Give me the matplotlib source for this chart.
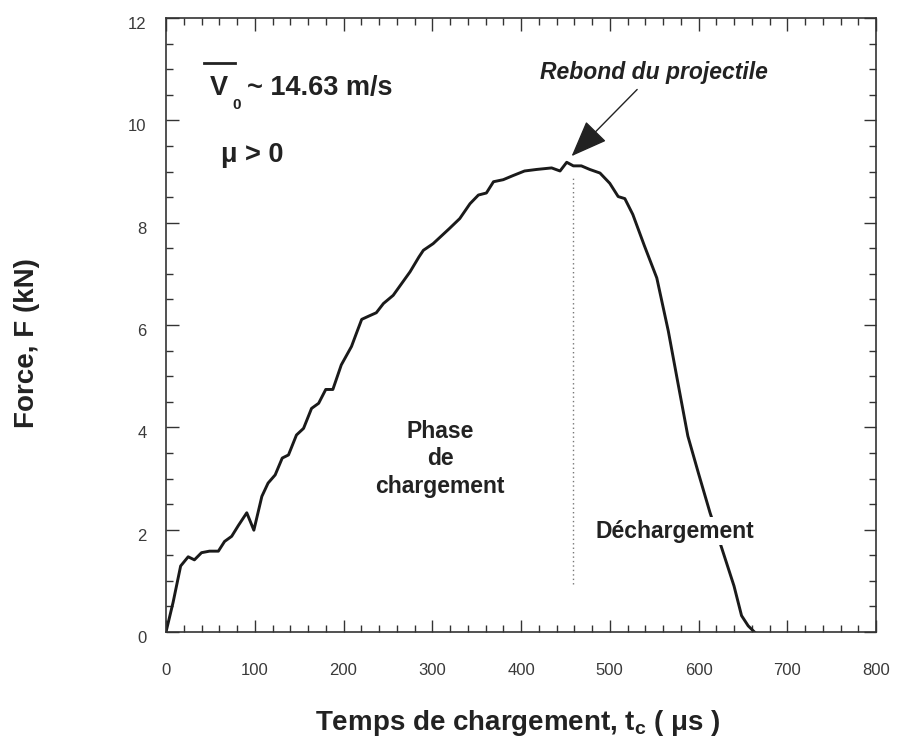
import matplotlib
matplotlib.use("Agg")
import matplotlib.pyplot as plt
import matplotlib.transforms as mtransforms
from matplotlib.ticker import MultipleLocator

plt.rcParams['font.family'] = ['Liberation Sans', 'DejaVu Sans']
plt.rcParams['mathtext.fontset'] = 'custom'
plt.rcParams['mathtext.rm'] = 'Liberation Sans:bold'
plt.rcParams['mathtext.it'] = 'Liberation Sans:bold'
plt.rcParams['mathtext.bf'] = 'Liberation Sans:bold'

# ---- data ----
time_us = [0, 8, 16.5, 25, 32, 40, 49, 59, 66, 74, 81.5, 91, 99, 108, 115, 123,
           131, 138, 147, 155, 164, 172, 180, 188, 197.5, 209, 214.6, 220.5, 228,
           237, 245, 256, 265.5, 275, 285, 290, 301, 319, 331, 342.5, 352, 361,
           369, 380, 391, 404, 417.6, 434.5, 444, 451.5, 459, 468, 477.5, 489,
           500, 509.5, 517, 526, 539, 553, 566, 577, 588, 600, 613, 626, 640,
           648.5, 656, 663]
force_kN = [0, 0.58, 1.29, 1.47, 1.41, 1.55, 1.58, 1.58, 1.77, 1.87, 2.08, 2.33,
            1.99, 2.65, 2.91, 3.07, 3.40, 3.46, 3.85, 3.98, 4.37, 4.47, 4.74,
            4.74, 5.22, 5.58, 5.84, 6.11, 6.17, 6.24, 6.42, 6.58, 6.81, 7.04,
            7.33, 7.46, 7.59, 7.88, 8.08, 8.37, 8.54, 8.58, 8.80, 8.84, 8.92,
            9.01, 9.04, 9.07, 9.01, 9.18, 9.11, 9.11, 9.04, 8.97, 8.77, 8.51,
            8.47, 8.16, 7.55, 6.92, 5.88, 4.85, 3.83, 3.10, 2.33, 1.65, 0.90,
            0.32, 0.12, 0.0]

rebound_time = 459          # dotted marker line
rebound_span = [0.94, 8.87]
x_ticks = [0, 100, 200, 300, 400, 500, 600, 700, 800]
y_ticks = [0, 2, 4, 6, 8, 10, 12]

fig = plt.figure(figsize=(9, 7.42), dpi=100)
ax = fig.add_axes([166 / 900, 1 - 632 / 742, 710 / 900, 614 / 742])

ax.plot(time_us, force_kN, color='#1a1a1a', lw=2.1, solid_joinstyle='round')
ax.plot([rebound_time, rebound_time], rebound_span, color='#777777', lw=1.0,
        linestyle=(0, (1, 2.2)))

ax.set_xlim(0, 800)
ax.set_ylim(0, 12)
ax.set_xticks(x_ticks)
ax.set_yticks(y_ticks)
ax.xaxis.set_minor_locator(MultipleLocator(20))
ax.yaxis.set_minor_locator(MultipleLocator(0.5))
ax.tick_params(which='both', direction='in', top=True, right=True,
               color='#333333', width=1.0)
ax.tick_params(which='major', length=9)
ax.tick_params(which='minor', length=5)
ax.tick_params(axis='x', which='major', pad=22, labelsize=12, labelcolor='#3a3a3a')
ax.tick_params(axis='y', which='major', pad=14, labelsize=12, labelcolor='#3a3a3a')
for s in ax.spines.values():
    s.set_color('#333333')
    s.set_linewidth(1.2)

off = mtransforms.ScaledTranslation(0, -5 / 100, fig.dpi_scale_trans)
for lab in ax.get_yticklabels():
    lab.set_transform(lab.get_transform() + off)

ax.set_xlabel(r'Temps de chargement, t$_{\mathrm{c}}$ ( μs )', fontsize=20,
              fontweight='bold', color='#222222')
ax.xaxis.set_label_coords(0.496, -0.123)
ax.set_ylabel('Force, F (kN)', fontsize=20, fontweight='bold', color='#222222')
ax.yaxis.set_label_coords(-0.178, 0.47)

tc = '#222222'
# V0 annotation
ax.text(0.062, 0.886, 'V', transform=ax.transAxes, fontsize=19.5,
        fontweight='bold', color=tc, va='center', ha='left')
ax.text(0.094, 0.858, '0', transform=ax.transAxes, fontsize=11,
        fontweight='bold', color=tc, va='center', ha='left')
ax.text(0.114, 0.886, '~ 14.63 m/s', transform=ax.transAxes, fontsize=19.5,
        fontweight='bold', color=tc, va='center', ha='left')
ax.plot([0.054, 0.097], [0.927, 0.927], transform=ax.transAxes,
        color=tc, lw=2.0)
ax.text(0.078, 0.777, 'μ > 0', transform=ax.transAxes, fontsize=19.5,
        fontweight='bold', color=tc, va='center', ha='left')

ax.text(309, 3.39, 'Phase\nde\nchargement', fontsize=16.5, fontweight='bold',
        color=tc, ha='center', va='center', linespacing=1.25)
ax.text(573.5, 1.97, 'Déchargement', fontsize=16.5, fontweight='bold',
        color=tc, ha='center', va='center', zorder=5,
        bbox=dict(facecolor='white', edgecolor='none', pad=2))

ax.annotate('Rebond du projectile', xy=(457, 9.30), xytext=(550, 10.94),
            fontsize=16.5, fontweight='bold', fontstyle='italic', color=tc,
            ha='center', va='center',
            arrowprops=dict(arrowstyle='-|>,head_length=1.4,head_width=0.55',
                            color='#222222', lw=1.0, shrinkA=3, shrinkB=0))

fig.savefig('out.png', dpi=100, facecolor='white')
